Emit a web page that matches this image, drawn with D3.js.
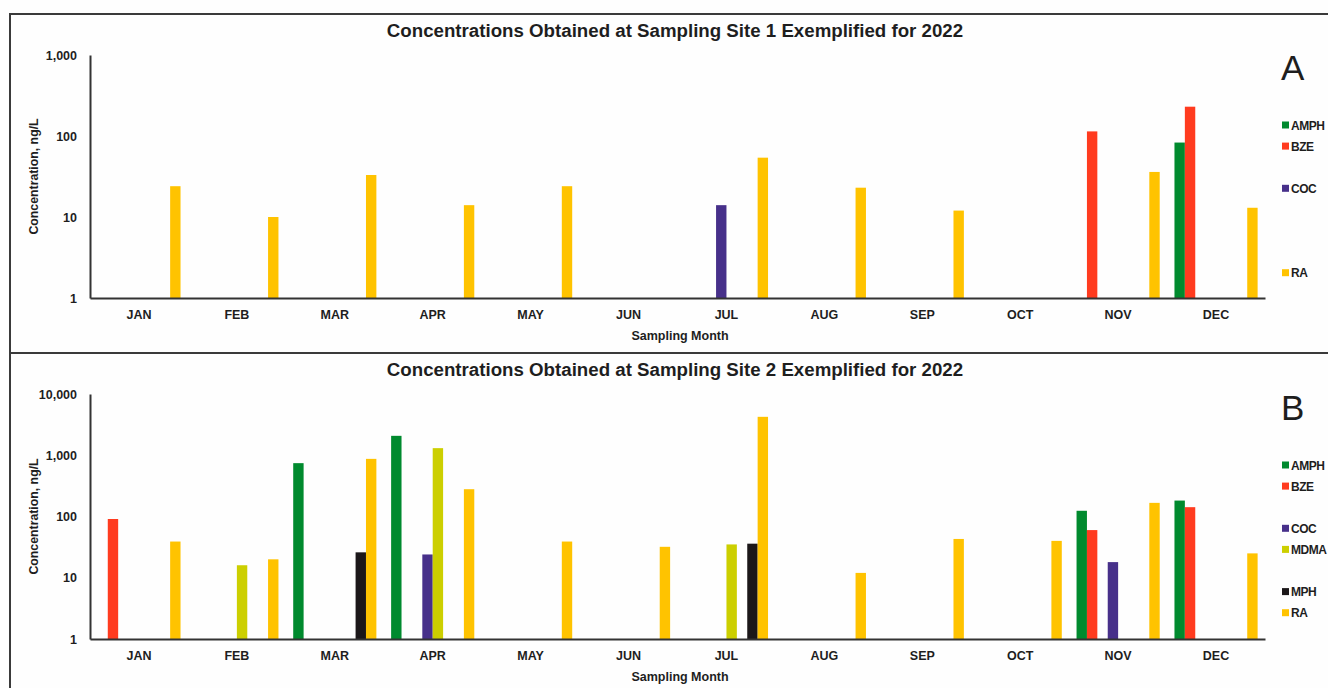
<!DOCTYPE html>
<html>
<head>
<meta charset="utf-8">
<script src="https://cdn.jsdelivr.net/npm/d3@7"></script>
<style>
  body { margin: 0; background: #fefefe; }
  svg text { font-family: "Liberation Sans", Arial, sans-serif; fill: #1e1e1e; }
</style>
</head>
<body>
<svg id="chart" width="1328" height="688"></svg>
<script>
// months on the x axis
const months = ["JAN", "FEB", "MAR", "APR", "MAY", "JUN", "JUL", "AUG", "SEP", "OCT", "NOV", "DEC"];

// 8 slots per month (two unnamed spacer series as in the original)
const slots = ["AMPH", "BZE", "s1", "COC", "MDMA", "s2", "MPH", "RA"];
const colors = {
  AMPH: "#008a2e", BZE: "#ff3b1f", COC: "#47308a",
  MDMA: "#cccf00", MPH: "#1b1719", RA: "#ffc300"
};

// legend entries per panel ("" = empty legend row)
const legendA = ["AMPH", "BZE", "", "COC", "", "", "", "RA"];
const legendB = ["AMPH", "BZE", "", "COC", "MDMA", "", "MPH", "RA"];

// Site 1 concentrations, ng/L (null = not detected)
const site1AMPH = [null, null, null, null, null, null, null, null, null, null, null, 83];
const site1BZE  = [null, null, null, null, null, null, null, null, null, null, 114, 230];
const site1COC  = [null, null, null, null, null, null, 14, null, null, null, null, null];
const site1RA   = [24, 10, 33, 14, 24, null, 54, 23, 12, null, 36, 13];

// Site 2 concentrations, ng/L
const site2AMPH = [null, null, 743, 2075, null, null, null, null, null, null, 124, 182];
const site2BZE  = [91, null, null, null, null, null, null, null, null, null, 60, 142];
const site2COC  = [null, null, null, 24, null, null, null, null, null, null, 18, null];
const site2MDMA = [null, 16, null, 1306, null, null, 35, null, null, null, null, null];
const site2MPH  = [null, null, 26, null, null, null, 36, null, null, null, null, null];
const site2RA   = [39, 20, 873, 279, 39, 32, 4240, 12, 43, 40, 167, 25];

const yTicks1 = [1, 10, 100, 1000];
const yTicks2 = [1, 10, 100, 1000, 10000];

const svg = d3.select("#chart");

// panel frames
svg.append("rect").attr("x", 10).attr("y", 14).attr("width", 1330).attr("height", 339)
  .attr("fill", "none").attr("stroke", "#3a3a3a").attr("stroke-width", 2);
svg.append("rect").attr("x", 10).attr("y", 353).attr("width", 1330).attr("height", 340)
  .attr("fill", "none").attr("stroke", "#3a3a3a").attr("stroke-width", 2);

function drawPanel(cfg) {
  const g = svg.append("g");

  const x0 = d3.scaleBand().domain(months).range([90, 1265]);
  const x1 = d3.scaleBand().domain(slots).range([0, x0.bandwidth()]).paddingOuter(0.71);
  const y = d3.scaleLog().domain([1, cfg.yMax]).range([cfg.bottom, cfg.top]);

  // bars
  cfg.series.forEach(s => {
    g.append("g").selectAll("rect")
      .data(s.values.map((v, i) => ({ m: months[i], v })).filter(d => d.v != null))
      .join("rect")
      .attr("x", d => x0(d.m) + x1(s.key))
      .attr("width", x1.bandwidth())
      .attr("y", d => y(d.v))
      .attr("height", d => y(1) - y(d.v))
      .attr("fill", colors[s.key]);
  });

  // y axis
  const ya = g.append("g").attr("transform", "translate(90,0)")
    .call(d3.axisLeft(y).tickValues(cfg.ticks).tickFormat(d3.format(",")).tickSize(0).tickPadding(13));
  ya.select(".domain").attr("stroke", "#333").attr("stroke-width", 2);
  ya.selectAll("text").style("font-size", "12.5px").style("font-weight", "bold").attr("fill", "#1e1e1e");

  // x axis
  const xa = g.append("g").attr("transform", `translate(0,${cfg.bottom})`)
    .call(d3.axisBottom(x0).tickSize(0).tickPadding(12));
  xa.select(".domain").attr("stroke", "#333").attr("stroke-width", 2);
  xa.selectAll("text").style("font-size", "12.5px").style("font-weight", "bold").attr("fill", "#1e1e1e");

  // titles
  g.append("text").attr("x", 675).attr("y", cfg.top - 18).attr("text-anchor", "middle")
    .style("font-size", "18.7px").style("font-weight", "bold").text(cfg.title);
  g.append("text").attr("x", 680).attr("y", cfg.bottom + 42).attr("text-anchor", "middle")
    .style("font-size", "12.5px").style("font-weight", "bold").text("Sampling Month");
  g.append("text")
    .attr("transform", `translate(38,${(cfg.top + cfg.bottom) / 2}) rotate(-90)`)
    .attr("text-anchor", "middle")
    .style("font-size", "12.3px").style("font-weight", "bold").text("Concentration, ng/L");

  // panel letter
  g.append("text").attr("x", 1281).attr("y", cfg.letterY)
    .style("font-size", "35px").text(cfg.letter);

  // legend
  const lg = g.append("g").attr("transform", `translate(1282,${cfg.legendY})`);
  cfg.legend.forEach((name, i) => {
    if (!name) return;
    const row = lg.append("g").attr("transform", `translate(0,${i * 21.1})`);
    row.append("rect").attr("x", 0).attr("y", -3.5).attr("width", 7).attr("height", 7)
      .attr("fill", colors[name]);
    row.append("text").attr("x", 9).attr("y", 4.6)
      .style("font-size", "12px").style("font-weight", "bold")
      .style("letter-spacing", "-0.5px").text(name);
  });
}

drawPanel({
  title: "Concentrations Obtained at Sampling Site 1 Exemplified for 2022",
  top: 55, bottom: 298, yMax: 1000, ticks: yTicks1,
  letter: "A", letterY: 80, legendY: 125, legend: legendA,
  series: [
    { key: "AMPH", values: site1AMPH },
    { key: "BZE", values: site1BZE },
    { key: "COC", values: site1COC },
    { key: "RA", values: site1RA }
  ]
});

drawPanel({
  title: "Concentrations Obtained at Sampling Site 2 Exemplified for 2022",
  top: 394, bottom: 639, yMax: 10000, ticks: yTicks2,
  letter: "B", letterY: 420, legendY: 465, legend: legendB,
  series: [
    { key: "AMPH", values: site2AMPH },
    { key: "BZE", values: site2BZE },
    { key: "COC", values: site2COC },
    { key: "MDMA", values: site2MDMA },
    { key: "MPH", values: site2MPH },
    { key: "RA", values: site2RA }
  ]
});
</script>
</body>
</html>
